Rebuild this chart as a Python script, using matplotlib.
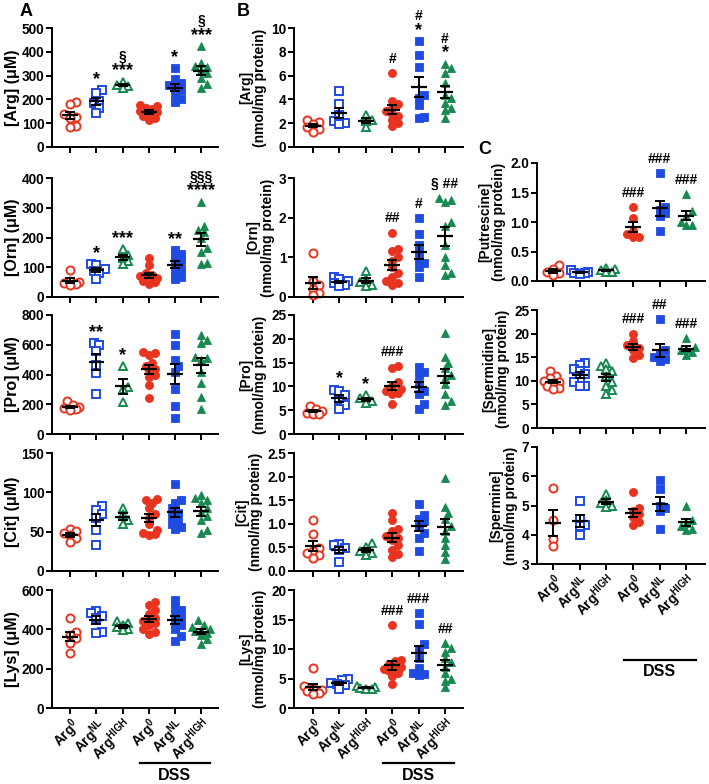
import numpy as np
import matplotlib
matplotlib.use('Agg')
import matplotlib.pyplot as plt
import matplotlib.transforms as mtransforms

plt.rcParams['font.family'] = ['Liberation Sans', 'DejaVu Sans']
plt.rcParams['font.weight'] = 'bold'
plt.rcParams['axes.labelweight'] = 'bold'
plt.rcParams['mathtext.default'] = 'regular'

# group order: Arg0, ArgNL, ArgHIGH, then the same three with DSS
group_labels = ['Arg$^{0}$', 'Arg$^{NL}$', 'Arg$^{HIGH}$'] * 2

# ---- panel A (plasma, uM) ----
a_arg = [[188, 182, 138, 128, 122, 88, 85],
         [240, 228, 195, 185, 165, 142],
         [275, 262, 255, 250],
         [178, 172, 165, 158, 150, 145, 140, 132, 122, 112],
         [330, 285, 270, 262, 250, 238, 222, 200, 188],
         [425, 352, 340, 335, 325, 310, 290, 265, 250]]
a_arg_sig = [None, '*', '§\n***', None, '*', '§\n***']

a_orn = [[90, 55, 52, 48, 45, 40],
         [110, 106, 95, 88, 80, 62],
         [160, 140, 132, 120, 112],
         [130, 108, 80, 75, 70, 65, 60, 55, 50, 45],
         [158, 145, 135, 125, 110, 95, 80, 68, 60],
         [320, 240, 225, 218, 200, 165, 150, 115, 110]]
a_orn_sig = [None, '*', '***', None, '**', '§§§\n****']

a_pro = [[220, 195, 180, 172, 165, 160],
         [610, 595, 560, 465, 412, 268],
         [455, 315, 300, 215],
         [552, 545, 530, 480, 455, 440, 420, 400, 380, 330, 245],
         [670, 600, 495, 455, 420, 300, 185, 110],
         [665, 630, 612, 520, 510, 495, 420, 345, 250, 165]]
a_pro_sig = [None, '**', '*', None, None, None]

a_cit = [[53, 51, 48, 46, 42, 37],
         [83, 78, 72, 68, 52, 33],
         [80, 72, 65, 60],
         [92, 90, 87, 80, 73, 68, 60, 52, 48, 47, 46],
         [111, 90, 87, 80, 74, 70, 65, 60, 56, 53],
         [97, 93, 90, 87, 80, 75, 70, 65, 52, 48]]

a_lys = [[457, 385, 370, 355, 330, 282],
         [495, 485, 470, 460, 385, 383],
         [442, 432, 420, 410, 400, 395],
         [540, 525, 500, 480, 460, 450, 440, 430, 420, 400, 385, 375],
         [550, 515, 500, 480, 460, 440, 420, 400, 365, 340],
         [445, 420, 410, 400, 395, 390, 380, 370, 350, 325]]

# ---- panel B (colon tissue, nmol/mg protein) ----
b_arg = [[2.3, 2.1, 1.9, 1.7, 1.5, 1.3],
         [4.7, 3.6, 2.7, 2.2, 2.0, 1.9],
         [2.7, 2.3, 2.2, 1.7],
         [6.2, 3.9, 3.6, 3.3, 3.0, 2.8, 2.6, 2.3, 2.0, 1.8],
         [8.9, 7.7, 6.7, 4.4, 4.1, 3.5, 2.5, 2.4],
         [7.0, 6.6, 6.2, 5.4, 4.4, 4.1, 3.7, 3.3, 3.1, 2.4]]
b_arg_sig = [None, None, None, '#', '#\n*', '#\n*']

b_orn = [[1.1, 0.4, 0.3, 0.2, 0.1, 0.05],
         [0.5, 0.45, 0.4, 0.35, 0.3, 0.28],
         [0.65, 0.45, 0.38, 0.3, 0.28],
         [1.62, 1.2, 1.15, 1.0, 0.9, 0.75, 0.6, 0.5, 0.4, 0.35, 0.3],
         [1.98, 1.6, 1.3, 1.15, 0.95, 0.85, 0.75, 0.5],
         [2.5, 2.45, 2.4, 1.9, 1.8, 1.3, 1.0, 0.8, 0.6, 0.55]]
b_orn_sig = [None, None, None, '##', '#', '§ ##']

b_pro = [[5.8, 5.2, 4.8, 4.5, 4.2, 4.3],
         [9.3, 9.0, 8.2, 7.2, 6.0, 5.2],
         [8.2, 7.5, 7.0, 6.5],
         [14.3, 13.8, 11.0, 10.0, 9.5, 9.0, 8.7, 8.5, 6.3],
         [14.0, 13.0, 12.5, 10.5, 9.0, 8.5, 6.2, 5.3],
         [21.3, 16.2, 15.0, 13.8, 12.5, 11.8, 10.5, 8.5, 7.0, 6.0]]
b_pro_sig = [None, '*', '*', '###', None, None]

b_cit = [[1.07, 0.78, 0.48, 0.42, 0.38, 0.33, 0.28],
         [0.57, 0.55, 0.48, 0.45, 0.2],
         [0.6, 0.5, 0.42, 0.38, 0.33],
         [1.22, 1.07, 0.9, 0.85, 0.75, 0.7, 0.65, 0.55, 0.45, 0.35, 0.3],
         [1.42, 1.18, 1.1, 1.05, 0.95, 0.8, 0.7, 0.42],
         [1.98, 1.35, 1.22, 1.1, 0.95, 0.85, 0.7, 0.55, 0.4, 0.25]]

b_lys = [[6.7, 3.8, 3.4, 3.1, 2.9, 2.6, 2.4],
         [5.0, 4.8, 4.3, 4.1, 3.9, 3.2],
         [3.8, 3.5, 3.4, 3.3, 3.2],
         [14.0, 8.2, 7.9, 7.4, 7.0, 6.8, 6.6, 6.3, 5.9, 5.4, 4.1],
         [16.1, 14.2, 10.8, 10.0, 8.5, 6.8, 6.0, 5.8, 5.6],
         [11.0, 10.2, 9.5, 8.5, 7.8, 7.0, 6.0, 5.0, 4.5, 3.5]]
b_lys_sig = [None, None, None, '###', '###', '##']

# ---- panel C (polyamines, nmol/mg protein) ----
c_put = [[0.27, 0.2, 0.15, 0.13, 0.11],
         [0.18, 0.16, 0.14, 0.13, 0.12],
         [0.22, 0.2, 0.18, 0.16, 0.15],
         [1.25, 1.07, 0.85, 0.8, 0.75, 0.75],
         [1.83, 1.25, 1.2, 1.15, 1.1, 0.85],
         [1.47, 1.18, 1.1, 1.0, 0.95, 0.95]]
c_put_sig = [None, None, None, '###', '###', '###']

c_spd = [[12.0, 11.0, 10.5, 10.0, 9.8, 9.5, 9.0, 8.5, 8.2],
         [13.7, 13.3, 12.5, 12.0, 11.5, 10.5, 9.8, 9.0, 8.8],
         [13.8, 13.2, 12.5, 12.0, 11.0, 9.8, 9.0, 8.0, 7.2],
         [20.0, 18.5, 17.5, 17.0, 16.5, 15.5, 14.8],
         [23.0, 16.5, 15.5, 15.0, 14.6, 14.3],
         [19.0, 17.2, 16.8, 16.5, 16.0, 15.5]]
c_spd_sig = [None, None, None, '###', '##', '###']

c_spm = [[5.6, 4.5, 3.85, 3.6],
         [5.17, 4.55, 4.35, 4.3, 4.0],
         [5.4, 5.2, 5.1, 5.0, 4.95],
         [5.47, 4.9, 4.8, 4.7, 4.6, 4.45, 4.35],
         [5.87, 5.55, 5.0, 4.9, 4.8, 4.2],
         [5.0, 4.5, 4.4, 4.3, 4.2, 4.15]]

colors = ['#e8341f', '#1f4be3', '#17894f'] * 2
markers = ['o', 's', '^'] * 2

W, H = 709, 784
fig = plt.figure(figsize=(W / 100, H / 100), dpi=100)


def px_axes(left, top, right, bottom):
    return fig.add_axes([left / W, 1 - bottom / H, (right - left) / W, (bottom - top) / H])


def swarm(vals, ylo, yhi, h_px, unit_px, d=5.8, maxw=0.38):
    # simple beeswarm: push points sideways until they stop overlapping
    ys = (np.asarray(vals, float) - ylo) / (yhi - ylo) * h_px
    xs = np.zeros(len(ys))
    done = []
    lim = maxw * unit_px
    for i in np.argsort(ys):
        best, best_cost = 0.0, None
        for k in range(40):
            step = (k + 1) // 2 * 0.5 * d * (1 if k % 2 else -1)
            if abs(step) > lim:
                break
            cost = sum(max(0.0, d ** 2 - (step - xs[j]) ** 2 - (ys[i] - ys[j]) ** 2) for j in done)
            if best_cost is None or cost < best_cost - 1e-9:
                best, best_cost = step, cost
            if cost == 0:
                break
        xs[i] = best
        done.append(i)
    return xs / unit_px


def mark(ax, x, top, text):
    # stack significance symbols above the highest point, bottom line first
    lines = text.split('\n')[::-1]
    off = 4.5 if '*' in lines[0] else 7.5
    for ln in lines:
        star = '*' in ln
        ax.annotate(ln, xy=(x, top), xytext=(0, off), textcoords='offset points',
                    ha='center', va='baseline', fontsize=13 if star else 10,
                    fontweight='bold', annotation_clip=False)
        off += 10.5


def panel(ax, data, ylim, yticks, ylabel, sig=None, fmt=None, xlim=(-0.7, 5.65),
          show_x=False, lab_size=10, lab_pad=3):
    ax.set_xlim(*xlim)
    ax.set_ylim(*ylim)
    bbox = ax.get_position()
    h_px = bbox.height * H
    unit_px = bbox.width * W / (xlim[1] - xlim[0])
    for i, vals in enumerate(data):
        off = swarm(vals, ylim[0], ylim[1], h_px, unit_px)
        open_m = i < 3
        ax.plot(i + off, vals, linestyle='none', marker=markers[i], ms=5.8,
                mfc='white' if open_m else colors[i], mec=colors[i],
                mew=1.4 if open_m else 0.6, clip_on=False, zorder=2)
        m = np.mean(vals)
        sem = np.std(vals, ddof=1) / np.sqrt(len(vals))
        ax.hlines(m, i - 0.3, i + 0.3, color='black', lw=1.6, zorder=3)
        ax.errorbar(i, m, yerr=sem, color='black', lw=1.4, capsize=3.6,
                    capthick=1.4, zorder=3)
        if sig is not None and sig[i]:
            mark(ax, i, max(vals), sig[i])
    ax.set_yticks(yticks)
    if fmt:
        ax.set_yticklabels([fmt.format(t) for t in yticks])
    ax.set_xticks(range(6))
    if show_x:
        ax.set_xticklabels(group_labels, rotation=45, ha='right',
                           rotation_mode='anchor', fontsize=11.8, fontweight='bold')
    else:
        ax.set_xticklabels([])
    ax.set_ylabel(ylabel, fontsize=lab_size, fontweight='bold', linespacing=1.0,
                  labelpad=lab_pad)
    for s in ['top', 'right']:
        ax.spines[s].set_visible(False)
    for s in ['left', 'bottom']:
        ax.spines[s].set_linewidth(1.4)
    ax.tick_params(width=1.4, length=4, labelsize=9.8, pad=1.5)
    for lab in ax.get_yticklabels():
        lab.set_fontweight('bold')


def dss(ax, ly, ty):
    tr = mtransforms.blended_transform_factory(ax.transData, ax.transAxes)
    ax.plot([2.65, 5.35], [ly, ly], color='black', lw=1.6, transform=tr, clip_on=False)
    ax.text(4.0, ty, 'DSS', transform=tr, ha='center', va='center',
            fontsize=11.5, fontweight='bold')


rows = [(28, 147), (178, 297), (315, 434), (453, 571), (590, 708)]

# panel A
specs_a = [(a_arg, (0, 500), range(0, 501, 100), '[Arg] (μM)', a_arg_sig),
           (a_orn, (0, 400), range(0, 401, 100), '[Orn] (μM)', a_orn_sig),
           (a_pro, (0, 800), range(0, 801, 200), '[Pro] (μM)', a_pro_sig),
           (a_cit, (0, 150), range(0, 151, 50), '[Cit] (μM)', None),
           (a_lys, (0, 600), range(0, 601, 200), '[Lys] (μM)', None)]
for r, (d, yl, yt, lab, sg) in enumerate(specs_a):
    ax = px_axes(52, rows[r][0], 218, rows[r][1])
    panel(ax, d, yl, list(yt), lab, sg, show_x=(r == 4), lab_size=11.5, lab_pad=1.5)
    if r == 4:
        dss(ax, -0.47, -0.575)

# panel B
specs_b = [(b_arg, (0, 10), [0, 2, 4, 6, 8, 10], '[Arg]\n(nmol/mg protein)', b_arg_sig, None),
           (b_orn, (0, 3), [0, 1, 2, 3], '[Orn]\n(nmol/mg protein)', b_orn_sig, None),
           (b_pro, (0, 25), [0, 5, 10, 15, 20, 25], '[Pro]\n(nmol/mg protein)', b_pro_sig, None),
           (b_cit, (0, 2.5), [0, 0.5, 1.0, 1.5, 2.0, 2.5], '[Cit]\n(nmol/mg protein)', None, '{:.1f}'),
           (b_lys, (0, 20), [0, 5, 10, 15, 20], '[Lys]\n(nmol/mg protein)', b_lys_sig, None)]
for r, (d, yl, yt, lab, sg, f) in enumerate(specs_b):
    ax = px_axes(294, rows[r][0], 463, rows[r][1])
    panel(ax, d, yl, yt, lab, sg, fmt=f, xlim=(-0.72, 5.68), show_x=(r == 4))
    if r == 4:
        dss(ax, -0.47, -0.575)

# panel C
rows_c = [(163, 281), (310, 428), (447, 564)]
specs_c = [(c_put, (0, 2.0), [0, 0.5, 1.0, 1.5, 2.0], '[Putrescine]\n(nmol/mg protein)', c_put_sig, '{:.1f}'),
           (c_spd, (0, 25), [0, 5, 10, 15, 20, 25], '[Spermidine]\n(nmol/mg protein)', c_spd_sig, None),
           (c_spm, (3, 7), [3, 4, 5, 6, 7], '[Spermine]\n(nmol/mg protein)', None, None)]
for r, (d, yl, yt, lab, sg, f) in enumerate(specs_c):
    ax = px_axes(537, rows_c[r][0], 705, rows_c[r][1])
    panel(ax, d, yl, yt, lab, sg, fmt=f, xlim=(-0.6, 5.7), show_x=(r == 2))
    if r == 2:
        dss(ax, -0.82, -0.92)

fig.text(20 / W, 1 - 12 / H, 'A', fontsize=13, fontweight='bold', ha='left', va='center')
fig.text(237 / W, 1 - 11 / H, 'B', fontsize=13, fontweight='bold', ha='left', va='center')
fig.text(478 / W, 1 - 150 / H, 'C', fontsize=13, fontweight='bold', ha='left', va='center')

fig.savefig('out.png', dpi=100)
